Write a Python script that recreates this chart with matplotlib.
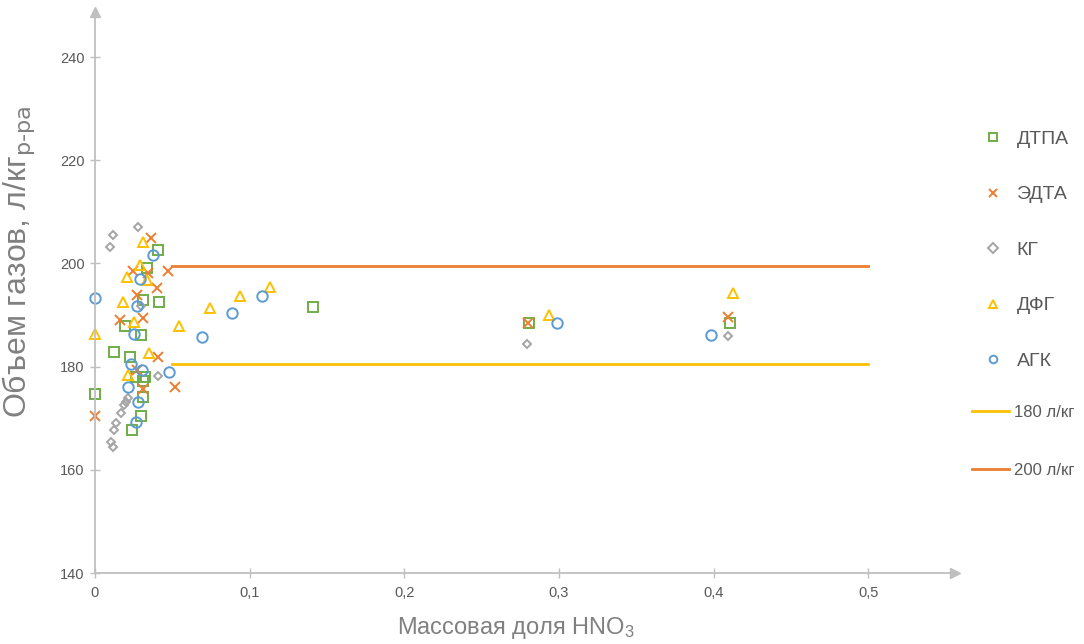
import matplotlib
matplotlib.use("Agg")
import matplotlib.pyplot as plt
from matplotlib.ticker import FuncFormatter

plt.rcParams['font.family'] = ['Liberation Sans', 'DejaVu Sans']
plt.rcParams['mathtext.default'] = 'regular'

# ДТПА
x_dtpa = [0, 0.0123, 0.0194, 0.0226, 0.0237, 0.0265, 0.0296, 0.0296, 0.0309, 0.0309,
          0.0312, 0.0323, 0.0334, 0.0409, 0.0416, 0.1412, 0.2807, 0.4107]
y_dtpa = [174.7, 182.8, 187.9, 181.9, 167.8, 178.0, 186.1, 170.4, 174.2, 177.3,
          193.0, 178.0, 199.2, 202.6, 192.6, 191.5, 188.5, 188.4]
# ЭДТА
x_edta = [0, 0.0162, 0.0244, 0.0270, 0.0274, 0.0309, 0.0312, 0.0345, 0.0360, 0.0399,
          0.0409, 0.0474, 0.0517, 0.2798, 0.4093]
y_edta = [170.4, 189.0, 198.6, 193.9, 179.3, 189.5, 175.6, 198.1, 204.9, 195.2,
          181.9, 198.6, 176.1, 188.5, 189.7]
# КГ
x_kg = [0.0097, 0.0102, 0.0114, 0.0118, 0.0123, 0.0136, 0.0166, 0.0188, 0.0201, 0.0215,
        0.0280, 0.0296, 0.0409, 0.2792, 0.4093]
y_kg = [203.2, 165.4, 164.4, 205.5, 167.7, 169.0, 171.0, 172.6, 173.2, 174.0,
        207.1, 191.7, 178.2, 184.3, 186.0]
# ДФГ
x_dfg = [0, 0.0183, 0.0205, 0.0212, 0.0252, 0.0291, 0.0309, 0.0334, 0.0351, 0.0545,
         0.0744, 0.0938, 0.1132, 0.2937, 0.4125]
y_dfg = [186.3, 192.6, 197.3, 178.3, 188.7, 199.8, 204.2, 196.8, 182.6, 187.9,
         191.3, 193.7, 195.5, 190.0, 194.2]
# АГК
x_agk = [0, 0.0215, 0.0231, 0.0252, 0.0265, 0.0274, 0.0280, 0.0291, 0.0302, 0.0373,
         0.0481, 0.0690, 0.0884, 0.1082, 0.2986, 0.3983]
y_agk = [193.3, 176.0, 180.5, 186.4, 169.3, 191.7, 173.2, 196.9, 179.3, 201.6,
         179.0, 185.8, 190.4, 193.7, 188.5, 186.1]

# горизонтальные уровни
x_lvl = [0.05, 0.5]
y_180 = [180.5, 180.5]
y_200 = [199.5, 199.5]

fig = plt.figure(figsize=(10.84, 6.44), dpi=100)
ax = fig.add_axes([0.0876, 0.1102, 0.7934, 0.8708])

series = [
    (x_dtpa, y_dtpa, 's', '#70AD47', 'ДТПА', 7),
    (x_edta, y_edta, 'x', '#ED7D31', 'ЭДТА', 6.5),
    (x_kg, y_kg, 'D', '#A5A5A5', 'КГ', 4.5),
    (x_dfg, y_dfg, '^', '#FFC000', 'ДФГ', 7.5),
    (x_agk, y_agk, 'o', '#5B9BD5', 'АГК', 7.5),
]
h1 = []
for xs, ys, m, c, lab, ms in series:
    ln, = ax.plot(xs, ys, linestyle='none', marker=m, markersize=ms,
                  markerfacecolor='none', markeredgecolor=c, markeredgewidth=1.4,
                  label=lab, clip_on=False)
    h1.append(ln)

l180, = ax.plot(x_lvl, y_180, color='#FFC000', lw=2, label='180 л/кг')
l200, = ax.plot(x_lvl, y_200, color='#ED7D31', lw=2, label='200 л/кг')

ax.set_xlim(0, 0.556)
ax.set_ylim(140, 248.7)
ax.set_xticks([0, 0.1, 0.2, 0.3, 0.4, 0.5])
ax.set_yticks([140, 160, 180, 200, 220, 240])
ax.xaxis.set_major_formatter(FuncFormatter(lambda v, p: ('%g' % v).replace('.', ',')))

for s in ['top', 'right']:
    ax.spines[s].set_visible(False)
for s in ['left', 'bottom']:
    ax.spines[s].set_color('#BFBFBF')
    ax.spines[s].set_linewidth(1.3)
ax.tick_params(axis='both', direction='inout', length=7, width=1, color='#BFBFBF',
               labelcolor='#595959', labelsize=10.5)
ax.tick_params(axis='y', pad=4)
ax.tick_params(axis='x', pad=6)

# стрелки на концах осей
ax.plot(0, 1, marker='^', color='#BFBFBF', markersize=7, transform=ax.transAxes, clip_on=False)
ax.plot(1, 0, marker='>', color='#BFBFBF', markersize=7, transform=ax.transAxes, clip_on=False)

ax.set_ylabel('Объем газов, л/кг$_{\\text{р-ра}}$', fontsize=23, color='#808080')
ax.yaxis.set_label_coords(-0.067, 0.555)
ax.set_xlabel('Массовая доля HNO$_3$', fontsize=17, color='#808080')
ax.xaxis.set_label_coords(0.49, -0.075)

leg1 = fig.legend(handles=h1, loc='upper left', bbox_to_anchor=(0.893, 0.825),
                  frameon=False, fontsize=14, handlelength=0.8, handletextpad=0.8,
                  labelspacing=1.95, labelcolor='#595959')
leg2 = fig.legend(handles=[l180, l200], loc='upper left', bbox_to_anchor=(0.883, 0.395),
                  frameon=False, fontsize=12, handlelength=2.2, handletextpad=0.3,
                  labelspacing=2.6, labelcolor='#595959')
for ln in leg1.get_lines():
    ln.set_markersize(5.5)

fig.savefig('out.png', dpi=100)
